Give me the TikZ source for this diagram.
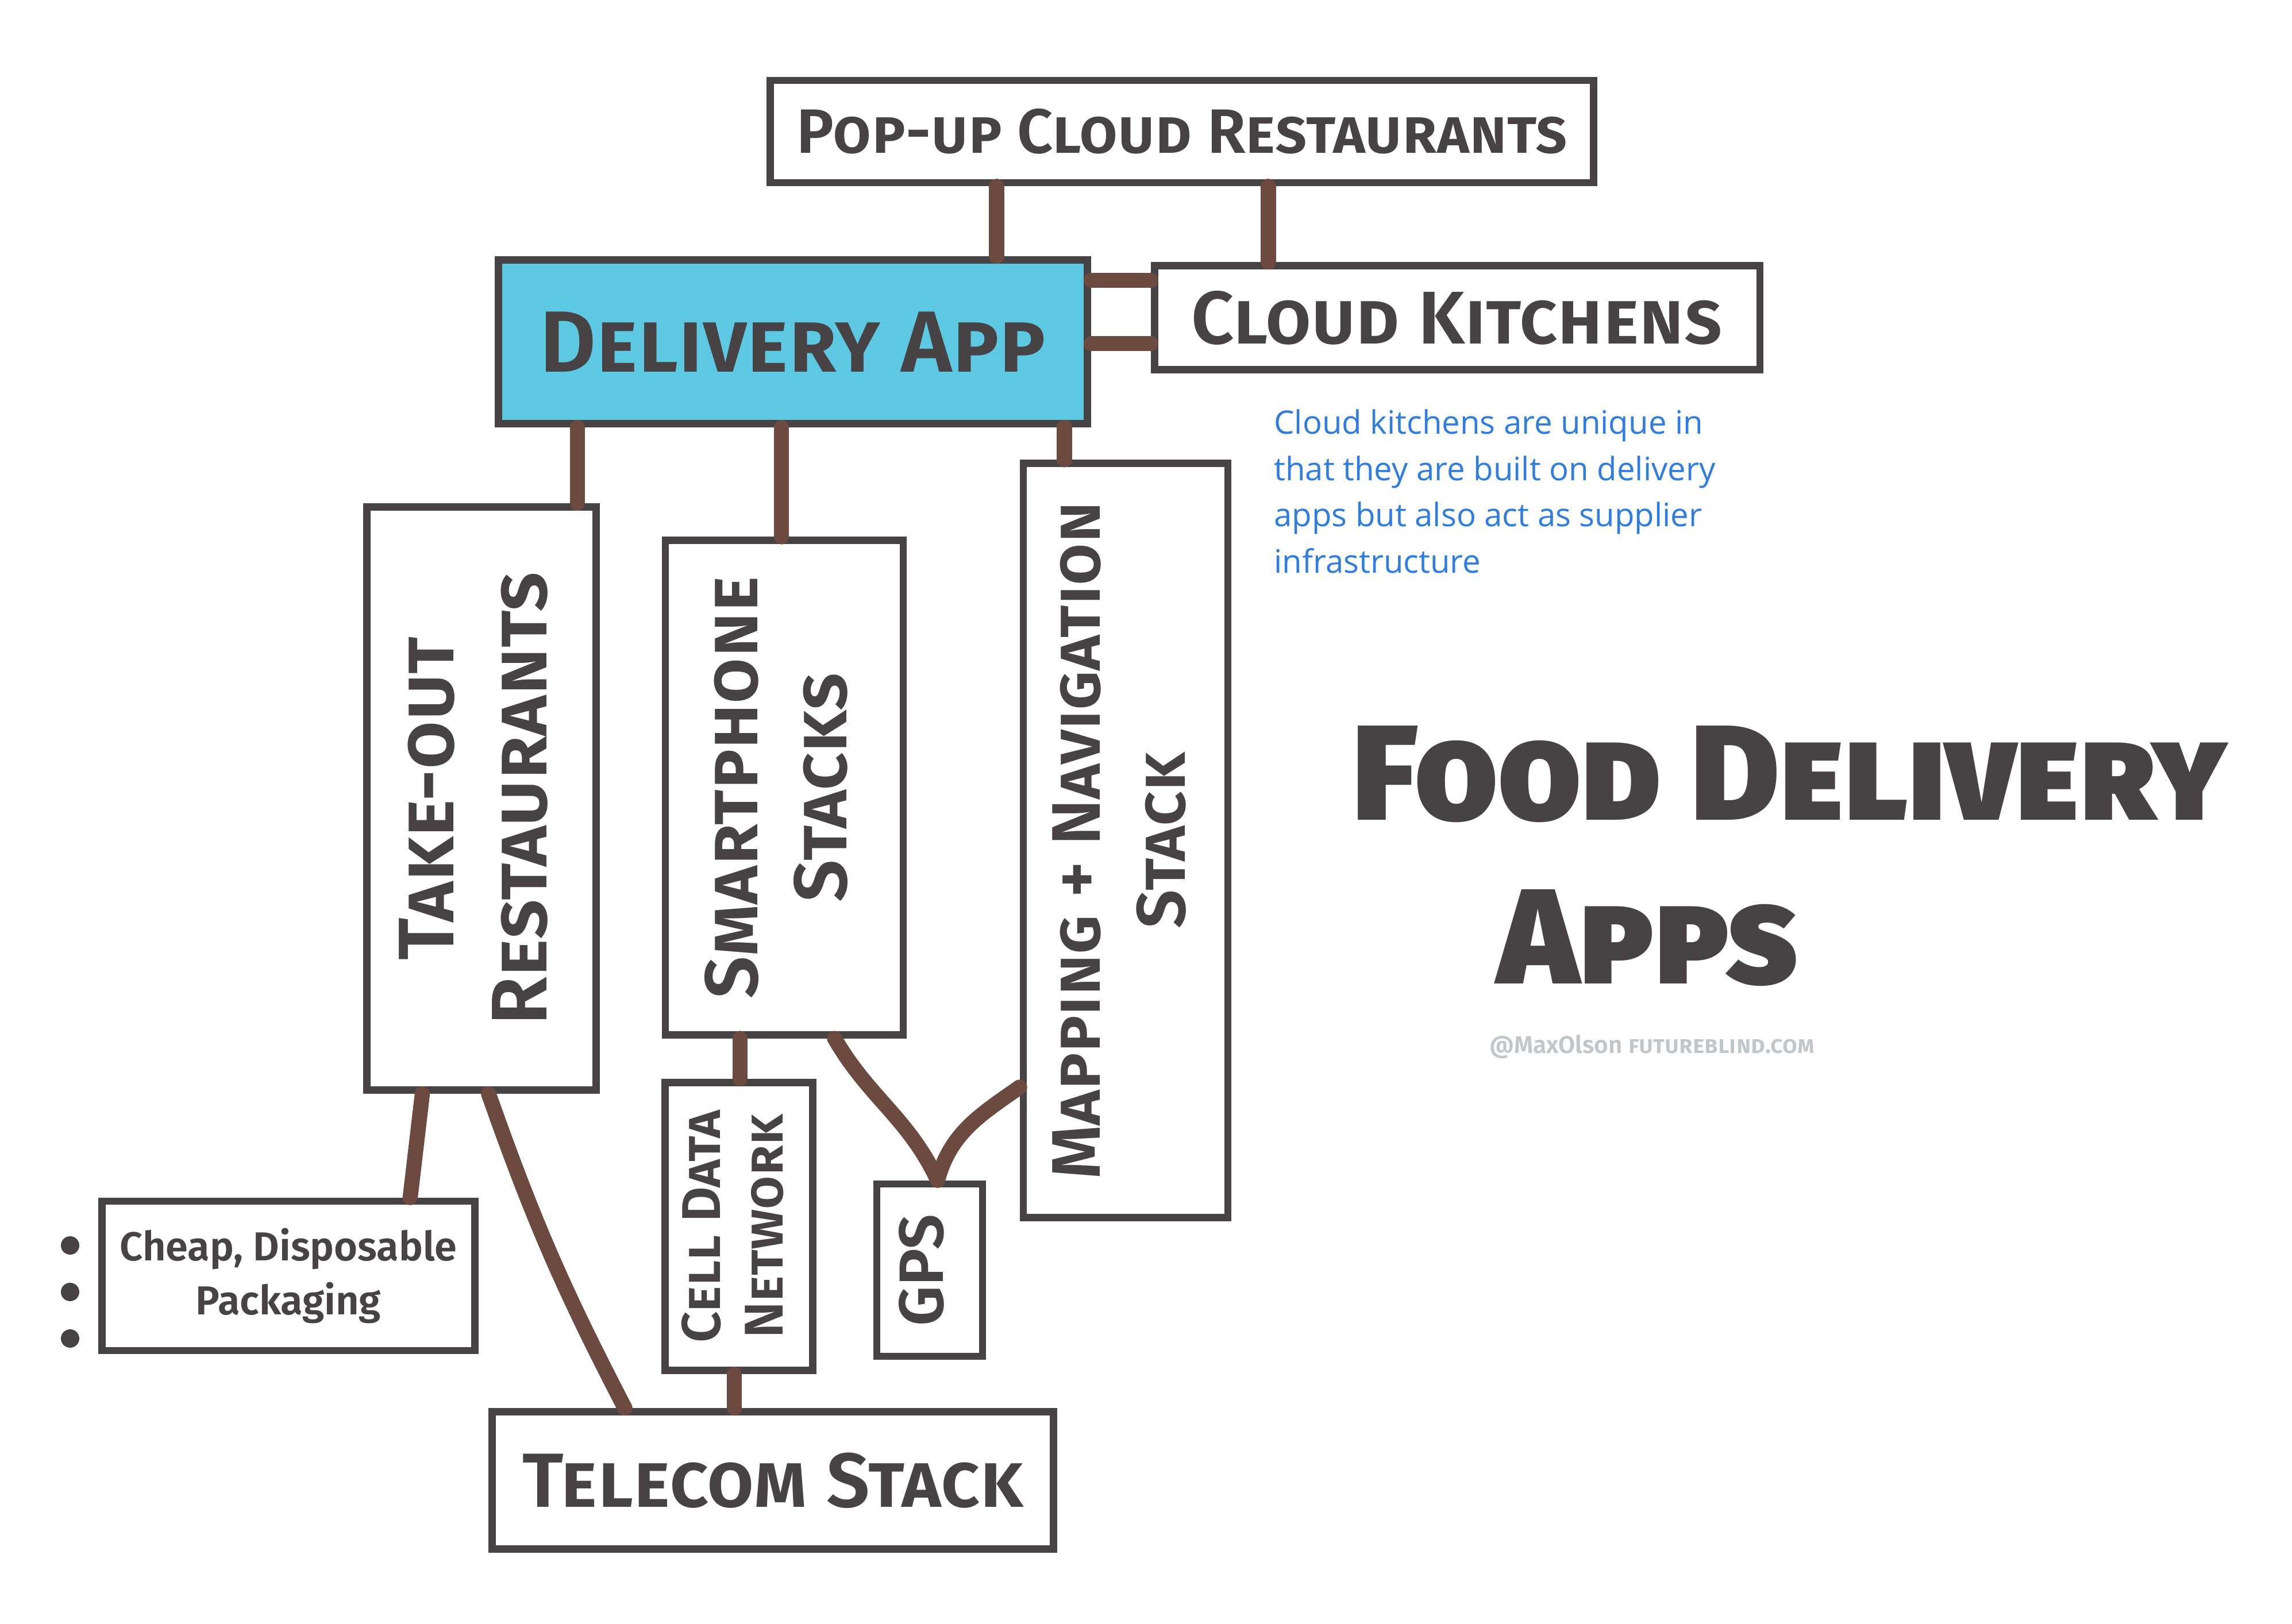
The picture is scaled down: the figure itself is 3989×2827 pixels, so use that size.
\documentclass[tikz,border=0pt]{standalone}
\usepackage{fontspec}
\setmainfont{Fira Sans SemiBold}
\newfontfamily\notefont{Open Sans}
\definecolor{boxgray}{RGB}{71,66,68}
\definecolor{linkbrown}{RGB}{109,74,64}
\definecolor{appcyan}{RGB}{92,200,226}
\definecolor{noteblue}{RGB}{47,125,225}
\definecolor{signgray}{RGB}{192,198,201}
\usetikzlibrary{positioning,calc}
\newcommand{\uptext}[1]{\rotatebox{90}{\begin{tabular}{@{}c@{}}#1\end{tabular}}}

\begin{document}
\begin{tikzpicture}[x=0.01cm,y=-0.01cm,
    box/.style={draw=boxgray, line width=3.6pt, inner sep=0pt, text=boxgray, align=center},
    link/.style={draw=linkbrown, line width=7.5pt, line cap=round}]
  \useasboundingbox (0,0) rectangle (3989,2827);
  % Top row
  \node[box, minimum width=14.32cm, minimum height=1.78cm,
    font=\fontsize{31}{33}\selectfont\scshape] (popup) at (2057,229) {Pop-up Cloud Restaurants};
  \node[box, fill=appcyan, minimum width=10.25cm, minimum height=2.85cm,
    font=\fontsize{43}{45}\selectfont\scshape] (deliv) at (1380,595) {Delivery App};
  \node[box, minimum width=10.53cm, minimum height=1.81cm,
    font=\fontsize{37}{39}\selectfont\scshape] (kitch) at (2536,553) {Cloud Kitchens};
  % Stacks
  \node[box, minimum width=3.99cm, minimum height=10.15cm,
    font=\fontsize{39}{46}\selectfont\scshape] (takeout) at (838,1390) {\uptext{Take-out\\Restaurants}};
  \node[box, minimum width=4.14cm, minimum height=8.6cm,
    font=\fontsize{37}{44}\selectfont\scshape] (smart) at (1365,1371) {\uptext{Smartphone\\Stacks}};
  \node[box, minimum width=3.56cm, minimum height=13.12cm,
    font=\fontsize{34}{42}\selectfont\scshape] (mapnav) at (1959,1463) {\uptext{Mapping + Navigation\\Stack}};
  \node[box, minimum width=6.49cm, minimum height=2.6cm,
    font=\fontsize{20}{27}\selectfont] (pack) at (502,2221) {Cheap, Disposable\\Packaging};
  \node[box, minimum width=2.57cm, minimum height=5.01cm,
    font=\fontsize{27}{31}\selectfont\scshape] (cell) at (1286,2135) {\uptext{Cell Data\\Network}};
  \node[box, minimum width=1.84cm, minimum height=3cm,
    font=\fontsize{31}{33}\selectfont\scshape] (gps) at (1618,2211) {\uptext{GPS}};
  \node[box, minimum width=9.77cm, minimum height=2.39cm,
    font=\fontsize{38}{40}\selectfont\scshape] (telecom) at (1345,2577) {Telecom Stack};
  % Straight links
  \foreach \a/\f/\b in {popup/0.277/deliv, popup/0.604/kitch, deliv/0.139/takeout,
      deliv/0.481/smart, deliv/0.955/mapnav, smart/0.32/cell, cell/0.47/telecom}
    \draw[link] ($(\a.south west)!\f!(\a.south east)$) coordinate (t) -- (t |- \b.north);
  \foreach \f in {0.14,0.51}
    \draw[link] ($(deliv.north east)!\f!(deliv.south east)$) coordinate (t) -- (t -| kitch.west);
  % Slanted links
  \draw[link] ($(takeout.south west)!0.25!(takeout.south east)$) -- ($(pack.north west)!0.82!(pack.north east)$);
  \draw[link] ($(takeout.south west)!0.53!(takeout.south east)$) to[bend right=4]
    ($(telecom.north west)!0.24!(telecom.north east)$);
  \draw[link] ($(smart.south west)!0.705!(smart.south east)$) to[out=-60,in=115]
    ($(gps.north west)!0.57!(gps.north east)$);
  \draw[link] ($(mapnav.north west)!0.824!(mapnav.south west)$) to[out=215,in=75]
    ($(gps.north west)!0.57!(gps.north east)$);
  % Bullet dots
  \foreach \y in {2168,2249,2330}
    \fill[boxgray] (122,\y) circle (0.16cm);
  % Note
  \node[anchor=north west, align=left, text=noteblue, font=\notefont\fontsize{16}{23}\selectfont]
    (note) at (2205,700) {Cloud kitchens are unique in\\that they are built on delivery\\apps but also act as supplier\\infrastructure};
  % Title
  \node[anchor=west, inner sep=0pt, align=left, text=boxgray, font=\fontsize{67}{81}\selectfont\bfseries\scshape]
    (title) at (2353,1490) {Food Delivery\\\hspace*{72pt}Apps};
  \node[text=signgray, font=\fontsize{12}{14}\selectfont] (sign) at (2875,1822) {@MaxOlson \textsc{futureblind.com}};
\end{tikzpicture}
\end{document}
